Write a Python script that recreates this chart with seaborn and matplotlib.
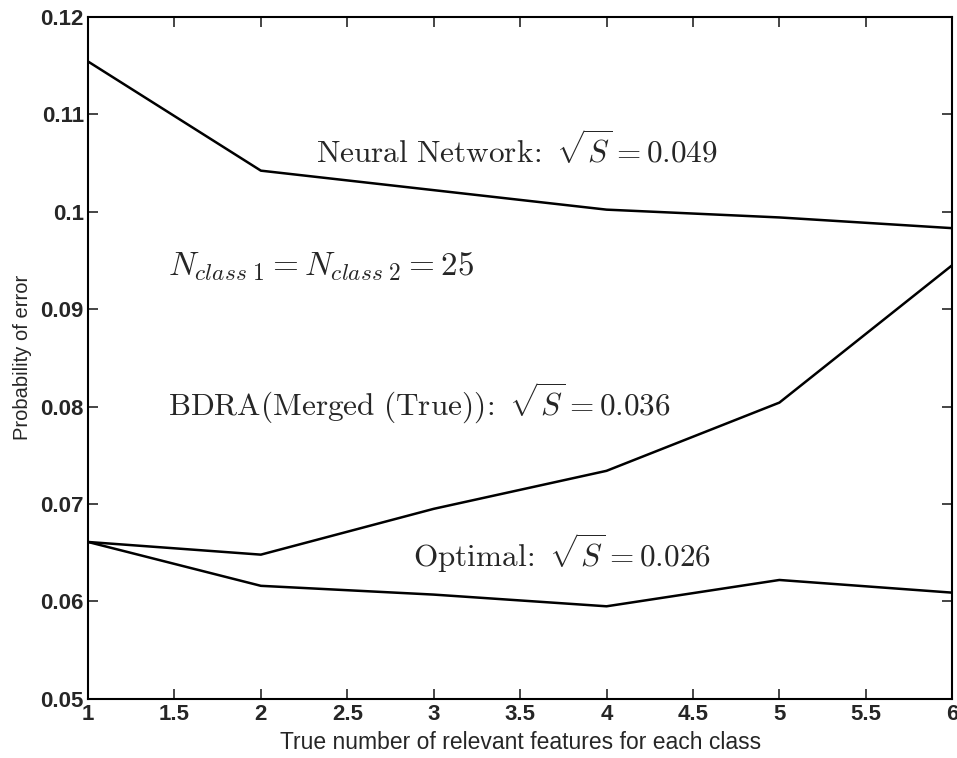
import matplotlib
matplotlib.use("Agg")
import matplotlib.pyplot as plt
import seaborn as sns
import pandas as pd

features = [1, 2, 3, 4, 5, 6]
neural_network = [0.1154, 0.1042, 0.1022, 0.1002, 0.0994, 0.0983]
bdra_merged = [0.0661, 0.0648, 0.0695, 0.0734, 0.0804, 0.0945]
optimal = [0.0661, 0.0616, 0.0607, 0.0595, 0.0622, 0.0609]

xtick_values = [1, 1.5, 2, 2.5, 3, 3.5, 4, 4.5, 5, 5.5, 6]
xtick_labels = ["1", "1.5", "2", "2.5", "3", "3.5", "4", "4.5", "5", "5.5", "6"]
ytick_values = [0.05, 0.06, 0.07, 0.08, 0.09, 0.10, 0.11, 0.12]
ytick_labels = ["0.05", "0.06", "0.07", "0.08", "0.09", "0.1", "0.11", "0.12"]

series_names = ["Neural Network", "BDRA(Merged (True))", "Optimal"]

df = pd.DataFrame({
    "x": features * 3,
    "y": neural_network + bdra_merged + optimal,
    "series": [series_names[0]] * 6 + [series_names[1]] * 6 + [series_names[2]] * 6,
})

sns.set_style("ticks")
plt.rcParams["font.family"] = ["Liberation Sans", "DejaVu Sans"]
plt.rcParams["mathtext.fontset"] = "cm"

fig = plt.figure(figsize=(9.57, 7.58), dpi=100)
ax = fig.add_axes([0.092, 0.078, 0.903, 0.900])

sns.lineplot(data=df, x="x", y="y", hue="series",
             palette={n: "black" for n in series_names},
             linewidth=1.8, legend=False, ax=ax)

ax.set_xlim(1, 6)
ax.set_ylim(0.05, 0.12)
ax.set_xticks(xtick_values)
ax.set_xticklabels(xtick_labels)
ax.set_yticks(ytick_values)
ax.set_yticklabels(ytick_labels)
ax.tick_params(direction="in", length=7, width=1.2, top=True, right=True,
               labelsize=16, pad=3)
ax.tick_params(axis="x", pad=4)
for lab in ax.get_xticklabels() + ax.get_yticklabels():
    lab.set_fontweight("bold")
for sp in ax.spines.values():
    sp.set_linewidth(1.5)
    sp.set_color("black")

ax.set_xlabel("True number of relevant features for each class", fontsize=16.5, labelpad=4)
ax.set_ylabel("Probability of error", fontsize=14.5, labelpad=6)

tsize = 22.5
ax.text(2.32, 0.1063, r"$\mathrm{Neural\ Network\!:}\ \sqrt{S} = 0.049$",
        fontsize=tsize, va="center", ha="left")
ax.text(1.46, 0.0943, r"$N_{class\ 1} = N_{class\ 2} = 25$",
        fontsize=tsize + 1.5, va="center", ha="left")
ax.text(1.46, 0.0803, r"$\mathrm{BDRA(Merged\ (True))\!:}\ \sqrt{S} = 0.036$",
        fontsize=tsize, va="center", ha="left")
ax.text(2.88, 0.0650, r"$\mathrm{Optimal\!:}\ \sqrt{S} = 0.026$",
        fontsize=tsize, va="center", ha="left")

fig.savefig("out.png", dpi=100)
